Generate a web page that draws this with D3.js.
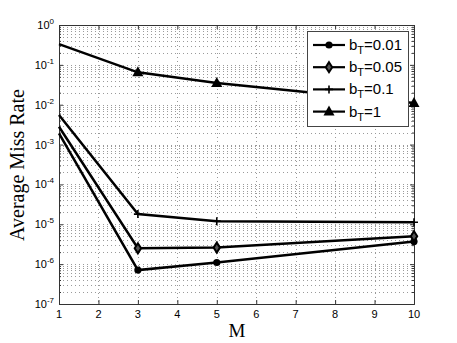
<!DOCTYPE html>
<html>
<head>
<meta charset="utf-8">
<script src="https://cdn.jsdelivr.net/npm/d3@7"></script>
<style>
  body { margin: 0; background: #fff; }
  svg { display: block; }
</style>
</head>
<body>
<div id="chart"></div>
<script>
// data
var M = [1, 3, 5, 10];
var seriesNames = ["0.01", "0.05", "0.1", "1"];
var bT001 = [1.9e-3, 7.1e-7, 1.1e-6, 3.7e-6];
var bT005 = [2.8e-3, 2.5e-6, 2.6e-6, 5.0e-6];
var bT01  = [5.5e-3, 1.8e-5, 1.2e-5, 1.12e-5];
var bT1   = [0.33, 0.065, 0.035, 0.011];
var xTicks = [1, 2, 3, 4, 5, 6, 7, 8, 9, 10];
var yExps = [0, -1, -2, -3, -4, -5, -6, -7];

var width = 457, height = 343;
var plot = { left: 59, right: 414, top: 25, bottom: 304 };

var svg = d3.select("#chart").append("svg")
    .attr("width", width)
    .attr("height", height);

var x = d3.scaleLinear().domain([1, 10]).range([plot.left, plot.right]);
var y = d3.scaleLog().domain([1e-7, 1]).range([plot.bottom, plot.top]);

// minor values for the log grid
var minorVals = [];
yExps.forEach(function(e) {
    if (e == 0) return;
    for (var k = 2; k <= 9; k++) minorVals.push(k * Math.pow(10, e));
});
var majorVals = yExps.map(function(e) { return Math.pow(10, e); });

var grid = svg.append("g").attr("class", "grid")
    .attr("stroke", "#9a9a9a")
    .attr("stroke-width", 1)
    .attr("stroke-dasharray", "1,3");

grid.selectAll(".hminor")
    .data(minorVals.concat(majorVals.slice(1, -1)))
    .enter().append("line")
    .attr("x1", plot.left).attr("x2", plot.right)
    .attr("y1", function(d) { return Math.round(y(d)) + 0.5; })
    .attr("y2", function(d) { return Math.round(y(d)) + 0.5; });

grid.selectAll(".vmajor")
    .data(xTicks.slice(1, -1))
    .enter().append("line")
    .attr("y1", plot.top).attr("y2", plot.bottom)
    .attr("x1", function(d) { return Math.round(x(d)) + 0.5; })
    .attr("x2", function(d) { return Math.round(x(d)) + 0.5; });

// axes (ticks inward, box on)
var axisColor = "#333";
var xAxisB = d3.axisBottom(x).tickValues(xTicks).tickSize(-4).tickFormat("");
var xAxisT = d3.axisTop(x).tickValues(xTicks).tickSize(-4).tickFormat("");
var yAxisL = d3.axisLeft(y).tickValues(majorVals.concat(minorVals)).tickSize(-4).tickFormat("");
var yAxisR = d3.axisRight(y).tickValues(majorVals.concat(minorVals)).tickSize(-4).tickFormat("");

function styleAxis(g) {
    g.selectAll("path").attr("stroke", axisColor).attr("stroke-width", 1);
    g.selectAll("line").attr("stroke", axisColor);
}
svg.append("g").attr("transform", "translate(0," + plot.bottom + ")").call(xAxisB).call(styleAxis);
svg.append("g").attr("transform", "translate(0," + plot.top + ")").call(xAxisT).call(styleAxis);
svg.append("g").attr("transform", "translate(" + plot.left + ",0)").call(yAxisL).call(styleAxis);
svg.append("g").attr("transform", "translate(" + plot.right + ",0)").call(yAxisR).call(styleAxis);

// minor ticks shorter
svg.selectAll(".tick line").filter(function(d) {
    return minorVals.indexOf(d) >= 0;
}).attr("x2", function() {
    var v = +d3.select(this).attr("x2");
    return v > 0 ? 2 : -2;
});

// tick labels
svg.append("g").selectAll("text")
    .data(xTicks)
    .enter().append("text")
    .attr("x", function(d) { return x(d); })
    .attr("y", plot.bottom + 14)
    .attr("text-anchor", "middle")
    .style("font-family", "Liberation Sans, Arial, sans-serif")
    .style("font-size", "11px")
    .text(function(d) { return d; });

var yLab = svg.append("g").selectAll("text")
    .data(yExps)
    .enter().append("text")
    .attr("x", plot.left - 5)
    .attr("y", function(d) { return y(Math.pow(10, d)) + 4; })
    .attr("text-anchor", "end")
    .style("font-family", "Liberation Sans, Arial, sans-serif")
    .style("font-size", "11px");
yLab.append("tspan").text("10");
yLab.append("tspan")
    .attr("dy", -5)
    .style("font-size", "8px")
    .text(function(d) { return d; });

// axis titles
svg.append("text")
    .attr("transform", "translate(24,165) rotate(-90)")
    .attr("text-anchor", "middle")
    .style("font-family", "Liberation Serif, Times New Roman, serif")
    .style("font-size", "20px")
    .text("Average Miss Rate");

svg.append("text")
    .attr("x", 237)
    .attr("y", 337)
    .attr("text-anchor", "middle")
    .style("font-family", "Liberation Serif, Times New Roman, serif")
    .style("font-size", "19px")
    .text("M");

// lines
var allSeries = [bT001, bT005, bT01, bT1];
var markers = ["circle", "diamond", "plus", "triangle"];

var line = d3.line()
    .x(function(d, i) { return x(M[i]); })
    .y(function(d) { return y(d); });

function drawMarker(g, type, cx, cy) {
    if (type == "circle") {
        g.append("circle").attr("cx", cx).attr("cy", cy).attr("r", 3.6).attr("fill", "#000");
    } else if (type == "diamond") {
        g.append("path")
            .attr("d", "M" + cx + "," + (cy - 5) + "L" + (cx + 3.2) + "," + cy + "L" + cx + "," + (cy + 5) + "L" + (cx - 3.2) + "," + cy + "Z")
            .attr("fill", "#555").attr("stroke", "#000").attr("stroke-width", 2);
    } else if (type == "plus") {
        g.append("path")
            .attr("d", "M" + (cx - 4) + "," + cy + "H" + (cx + 4) + "M" + cx + "," + (cy - 4) + "V" + (cy + 4))
            .attr("stroke", "#000").attr("stroke-width", 1.6).attr("fill", "none");
    } else {
        g.append("path")
            .attr("d", "M" + cx + "," + (cy - 6) + "L" + (cx + 5.5) + "," + (cy + 4) + "L" + (cx - 5.5) + "," + (cy + 4) + "Z")
            .attr("fill", "#000");
    }
}

var lines = svg.append("g").attr("class", "lines");
allSeries.forEach(function(s, k) {
    lines.append("path")
        .datum(s)
        .attr("d", line)
        .attr("fill", "none")
        .attr("stroke", "#000")
        .attr("stroke-width", 2.5);
    var mg = lines.append("g");
    s.forEach(function(v, i) {
        // no marker shows at M=1 in the original
        if (i == 0) return;
        drawMarker(mg, markers[k], x(M[i]), y(v));
    });
});

// legend
var legend = svg.append("g").attr("class", "legend");
legend.append("rect")
    .attr("x", 307.5).attr("y", 31.5)
    .attr("width", 101).attr("height", 95)
    .attr("fill", "#fff")
    .attr("stroke", "#444")
    .attr("stroke-width", 1);

var items = legend.selectAll(".item")
    .data(seriesNames)
    .enter().append("g")
    .attr("class", "item")
    .attr("transform", function(d, i) {
        var yy = 45 + 22.2 * i;
        return "translate(0," + yy + ")";
    });

items.append("line")
    .attr("x1", 313).attr("x2", 345)
    .attr("y1", 0).attr("y2", 0)
    .attr("stroke", "#000").attr("stroke-width", 2.2);

items.each(function(d, i) {
    drawMarker(d3.select(this), markers[i], 329, 0);
});

var lt = items.append("text")
    .attr("x", 349)
    .attr("y", 5)
    .style("font-family", "Liberation Sans, Arial, sans-serif")
    .style("font-size", "15px");
lt.append("tspan").text("b");
lt.append("tspan").attr("dy", 4).style("font-size", "11px").text("T");
lt.append("tspan").attr("dy", -4).text(function(d) { return "=" + d; });
</script>
</body>
</html>
